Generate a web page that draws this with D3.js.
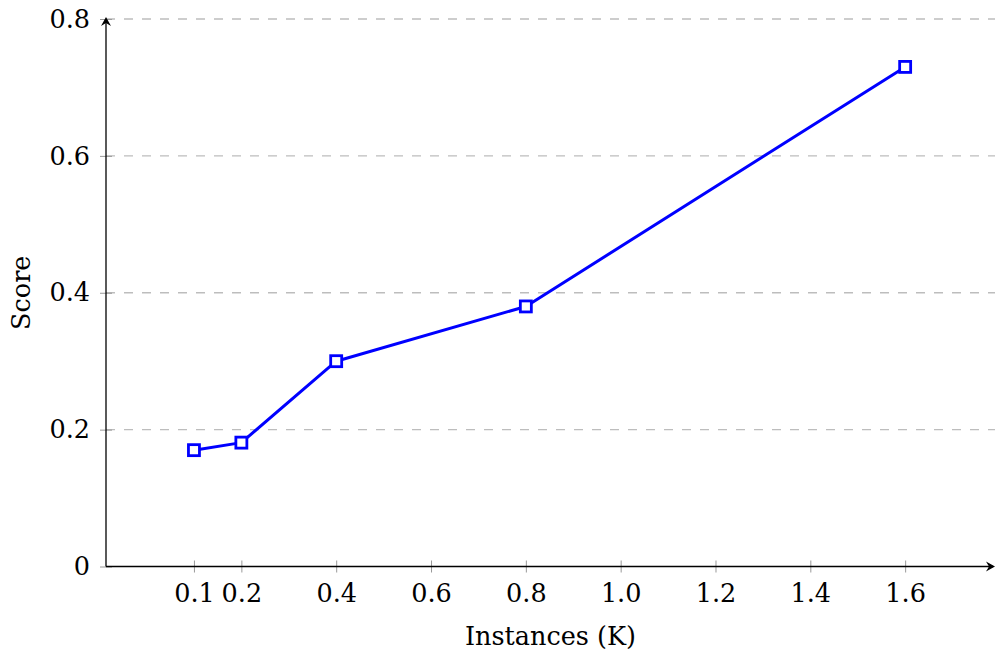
<!DOCTYPE html>
<html>
<head>
<meta charset="utf-8">
<script src="https://cdn.jsdelivr.net/npm/d3@7"></script>
<style>
  body { margin: 0; background: #fff; }
  text { font-family: "DejaVu Serif", "Liberation Serif", serif; fill: #000; }
</style>
</head>
<body>
<div id="chart"></div>
<script>
// data
var instances = [0.1, 0.2, 0.4, 0.8, 1.6];
var scores = [0.17, 0.181, 0.30, 0.38, 0.73];
var xTicks = [0.1, 0.2, 0.4, 0.6, 0.8, 1.0, 1.2, 1.4, 1.6];
var yTicks = [0, 0.2, 0.4, 0.6, 0.8];

var W = 996, H = 664;
var plotLeft = 106, plotRight = 995, plotTop = 19, plotBottom = 566.5;
var fontSize = 25.5;

var svg = d3.select("#chart")
  .append("svg")
    .attr("width", W)
    .attr("height", H);

// scales (x = 0 sits at ~147px, 0.2 per 95px; y: 0 at bottom, 0.8 at top)
var x = d3.scaleLinear()
    .domain([-0.0855, 1.7895])
    .range([plotLeft, plotRight]);
var y = d3.scaleLinear()
    .domain([0, 0.8])
    .range([plotBottom, plotTop]);

// horizontal dashed grid
svg.append("g")
  .selectAll("line")
  .data(yTicks.filter(function(d) { return d > 0; }))
  .enter()
  .append("line")
    .attr("x1", plotLeft)
    .attr("x2", plotRight)
    .attr("y1", function(d) { return y(d); })
    .attr("y2", function(d) { return y(d); })
    .attr("stroke", "#bdbdbd")
    .attr("stroke-width", 1.3)
    .attr("stroke-dasharray", "9,9");

// x axis
var xAxis = svg.append("g")
    .attr("transform", "translate(0," + plotBottom + ")")
    .call(d3.axisBottom(x).tickValues(xTicks).tickSize(0).tickPadding(17).tickFormat(d3.format(".1f")));
xAxis.select(".domain").remove();
xAxis.selectAll(".tick line").remove();
xAxis.selectAll(".tick").append("line")
    .attr("y1", -6).attr("y2", 6)
    .attr("stroke", "#999").attr("stroke-width", 1);
xAxis.selectAll("text").attr("font-size", fontSize).attr("fill", "#000")
    .attr("font-family", "DejaVu Serif");

// y axis
var yAxis = svg.append("g")
    .attr("transform", "translate(" + plotLeft + ",0)")
    .call(d3.axisLeft(y).tickValues(yTicks).tickSize(0).tickPadding(16)
      .tickFormat(function(d) { return d === 0 ? "0" : d3.format(".1f")(d); }));
yAxis.select(".domain").remove();
yAxis.selectAll(".tick line").remove();
yAxis.selectAll(".tick").append("line")
    .attr("x1", -6).attr("x2", 6)
    .attr("stroke", "#999").attr("stroke-width", 1);
yAxis.selectAll("text").attr("font-size", fontSize).attr("fill", "#000")
    .attr("font-family", "DejaVu Serif");

// axis lines with arrow heads
svg.append("line")
    .attr("x1", plotLeft).attr("x2", plotRight - 2)
    .attr("y1", plotBottom).attr("y2", plotBottom)
    .attr("stroke", "#000").attr("stroke-width", 1.3);
svg.append("path")
    .attr("d", "M" + (plotRight - 9) + "," + (plotBottom - 5) + " L" + plotRight + "," + plotBottom +
               " L" + (plotRight - 9) + "," + (plotBottom + 5) + " L" + (plotRight - 6) + "," + plotBottom + " Z")
    .attr("fill", "#000");
svg.append("line")
    .attr("x1", plotLeft).attr("x2", plotLeft)
    .attr("y1", plotBottom).attr("y2", plotTop)
    .attr("stroke", "#000").attr("stroke-width", 1.3);
svg.append("path")
    .attr("d", "M" + (plotLeft - 5) + "," + (plotTop + 7) + " L" + plotLeft + "," + (plotTop - 2) +
               " L" + (plotLeft + 5) + "," + (plotTop + 7) + " L" + plotLeft + "," + (plotTop + 4) + " Z")
    .attr("fill", "#000");

// axis labels
svg.append("text")
    .attr("text-anchor", "middle")
    .attr("x", (plotLeft + plotRight) / 2)
    .attr("y", 645)
    .attr("font-size", fontSize)
    .text("Instances (K)");
svg.append("text")
    .attr("text-anchor", "middle")
    .attr("transform", "translate(30," + ((plotTop + plotBottom) / 2) + ") rotate(-90)")
    .attr("font-size", fontSize)
    .text("Score");

// line
var points = instances.map(function(d, i) { return [d, scores[i]]; });
svg.append("path")
    .datum(points)
    .attr("fill", "none")
    .attr("stroke", "#0000ff")
    .attr("stroke-width", 3)
    .attr("stroke-linejoin", "round")
    .attr("d", d3.line()
      .x(function(d) { return x(d[0]); })
      .y(function(d) { return y(d[1]); }));

// square markers
svg.append("g")
  .selectAll("rect")
  .data(points)
  .enter()
  .append("rect")
    .attr("x", function(d) { return x(d[0]) - 5.5; })
    .attr("y", function(d) { return y(d[1]) - 5.5; })
    .attr("width", 11)
    .attr("height", 11)
    .attr("fill", "#fff")
    .attr("stroke", "#0000ff")
    .attr("stroke-width", 2.8);
</script>
</body>
</html>
